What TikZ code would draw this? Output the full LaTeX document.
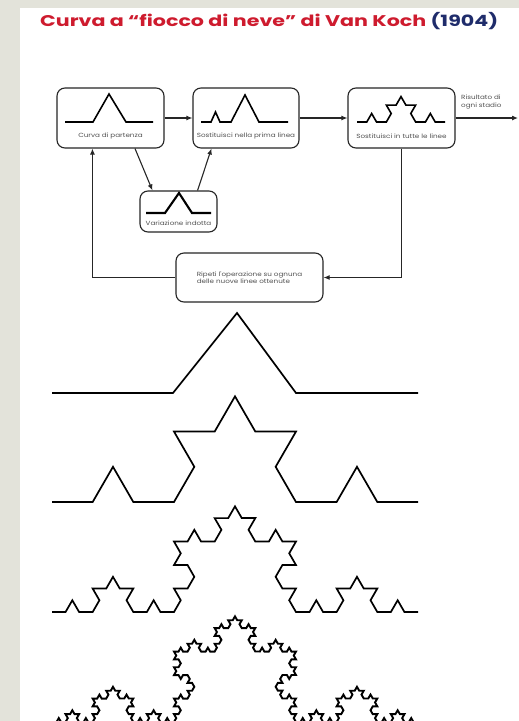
\documentclass[tikz,border=0pt]{standalone}
\usepackage{fontspec}
\setmainfont{Poppins}
\newfontfamily\titlefont[FakeStretch=1.33]{Poppins}
\newfontfamily\labfont[FakeStretch=1.2]{Poppins}
\usetikzlibrary{decorations.fractals,arrows.meta}
\definecolor{bggray}{HTML}{E3E3DA}
\definecolor{titlered}{HTML}{CE1B2E}
\definecolor{titleblue}{HTML}{1F2C6B}
\definecolor{labgray}{HTML}{505050}
\begin{document}
\begin{tikzpicture}[x=1pt,y=-1pt,
  box/.style={draw=black!85, line width=1.1pt, rounded corners=8pt, inner sep=0pt},
  lab/.style={font=\labfont\fontsize{6.0}{7.4}\selectfont, text=labgray},
  mini/.style={line width=1.6pt, line join=miter},
  arr/.style={line width=1.1pt, draw=black!85, -{Latex[length=6pt,width=5pt]}},
  koch/.style={line width=1.7pt, line join=miter, decoration=Koch snowflake}]
\fill[bggray] (0,0) rectangle (519,721);
\fill[white] (20,8) rectangle (519,721);
\useasboundingbox (0,0) rectangle (519,721);
\clip (0,0) rectangle (519,721);

% title
\node[anchor=base west, inner sep=0pt, font=\titlefont\bfseries\fontsize{15.5}{17}\selectfont] (title) at (40,26)
  {\textcolor{titlered}{Curva a “fiocco di neve” di Van Koch} \textcolor{titleblue}{(1904)}};

% boxes
\node[box, minimum width=107pt, minimum height=60pt] (b1) at (110.5,118) {};
\node[box, minimum width=106pt, minimum height=60pt] (b2) at (246,118) {};
\node[box, minimum width=107pt, minimum height=60pt] (b3) at (401.5,118) {};
\node[box, minimum width=77pt, minimum height=41pt] (b4) at (178.5,211.5) {};
\node[box, lab, align=left, minimum width=147pt, minimum height=49pt] (b5) at (249.5,277.5)
  {Ripeti l'operazione su ognuna\\delle nuove linee ottenute};

% labels in boxes
\node[lab] (l1) at (110.5,136) {Curva di partenza};
\node[lab] (l2) at (246,136) {Sostituisci nella prima linea};
\node[lab] (l3) at (401.5,136) {Sostituisci in tutte le linee};
\node[lab] (l4) at (178.5,223) {Variazione indotta};
\node[lab, anchor=south west, align=left, inner sep=0pt] (res) at (461,109) {Risultato di\\ogni stadio};

% curves in boxes
\draw[mini] (65,122) -- (93,122) -- (109,94) -- (126,122) -- (153,122);
\draw[mini] (201,122) -- (211,122) -- (215.5,112) -- (220,122) -- (231,122) -- (245,95) -- (259,122) -- (288,122);
\draw[mini, decoration=Koch snowflake] decorate{decorate{(357,122) -- (445,122)}};
\draw[mini, line width=2.1pt] (146,213) -- (165,213) -- (179,193) -- (192,213) -- (211,213);

% connectors
\coordinate (out) at (518,118);
\draw[arr] (b1) -- (b2);
\draw[arr] (b2) -- (b3);
\draw[arr] (b3) -- (out);
\draw[arr] ([xshift=24.5pt]b1.south) -- ([xshift=13pt]b4.north west);
\draw[arr] ([xshift=-20pt]b4.north east) -- ([xshift=19pt]b2.south west);
\draw[arr] (b5.west) -| ([xshift=36pt]b1.south west);
\draw[arr] (b3.south) |- (b5.east);

% Koch curves
\draw[koch] (52,393) -- (173,393) -- (237,313) -- (296,393) -- (418,393);
\draw[koch] decorate{decorate{(52,502) -- (418,502)}};
\draw[koch] decorate{decorate{decorate{(52,612) -- (418,612)}}};
\draw[koch, line width=1.9pt] decorate{decorate{decorate{decorate{(52,722) -- (418,722)}}}};
\end{tikzpicture}
\end{document}
